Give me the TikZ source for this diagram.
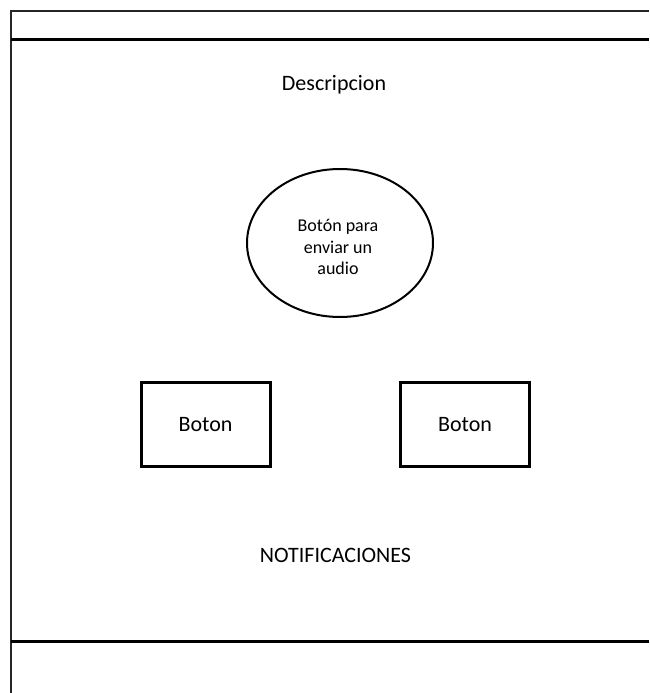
\documentclass[tikz,border=0pt]{standalone}
\usepackage{fontspec}
\setmainfont{Carlito}
\usetikzlibrary{shapes.geometric}
\begin{document}
\begin{tikzpicture}[x=1pt,y=-1pt,
  frameline/.style={line width=1.5pt,draw=black!85},
  barline/.style={line width=3pt},
  label/.style={font=\fontsize{22}{26}\selectfont,anchor=base,inner sep=0pt},
  buttonbox/.style={draw,line width=3pt,minimum width=129pt,minimum height=84pt,
    inner sep=0pt,font=\fontsize{22}{26}\selectfont},
  audiobtn/.style={draw,ellipse,line width=2pt,minimum width=186pt,minimum height=148pt,
    inner sep=0pt},
  audiotext/.style={inner sep=0pt,align=center,font=\fontsize{18}{21.5}\selectfont}
]
\useasboundingbox (0,0) rectangle (649,693);
% window outline
\coordinate (tl) at (11,11);
\coordinate (tr) at (649,11);
\coordinate (bl) at (11,693);
\draw[frameline] (tr) -- (tl) -- (bl);
% header and footer bars
\coordinate (h1) at (11,39.5);
\coordinate (h2) at (649,39.5);
\coordinate (f1) at (11,641);
\coordinate (f2) at (649,641);
\draw[barline] (h1) -- (h2);
\draw[barline] (f1) -- (f2);
% content
\node[label] (desc) at (334,90) {Descripcion};
\node[audiobtn] (audio) at (340,243) {};
\node[audiotext] (audiolbl) at (338,247) {Botón para\\enviar un\\audio};
\node[buttonbox] (b1) at (205.5,424.5) {Boton};
\node[buttonbox] (b2) at (465,424.5) {Boton};
\node[label] (notif) at (335.5,562.5) {NOTIFICACIONES};
\end{tikzpicture}
\end{document}
